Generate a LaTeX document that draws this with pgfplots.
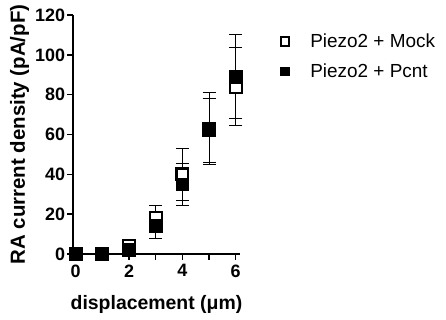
\documentclass[border=0pt]{standalone}
\usepackage{fontspec}
\setmainfont{Liberation Sans}
\usepackage{pgfplots}
\pgfplotsset{compat=1.18}
\begin{document}
\begin{tikzpicture}
\path[use as bounding box] (0,0) rectangle (446bp,320bp);
\begin{axis}[
  at={(73bp,66bp)}, anchor=south west,
  scale only axis, width=167bp, height=239bp,
  xmin=-0.1, xmax=6.16, ymin=0, ymax=120,
  clip=false,
  axis lines*=left,
  axis line style={line width=1.5pt},
  xtick={0,2,4,6}, ytick={0,20,40,60,80,100,120},
  minor xtick={1,3,5},
  tick style={line width=1.5pt, black},
  tick align=outside,
  major tick length=5.5bp, minor tick length=5.5bp,
  /pgf/number format/assume math mode=true,
  ticklabel style={font=\fontsize{18}{19}\selectfont\bfseries},
  xticklabel style={yshift=-1.5bp},
  yticklabel style={xshift=1bp},
  xlabel={displacement (μm)},
  ylabel={RA current density (pA/pF)},
  xlabel style={font=\fontsize{19.5}{21}\selectfont\bfseries, yshift=-11bp},
  ylabel style={font=\fontsize{20.5}{22}\selectfont\bfseries, yshift=-1bp},
  legend style={at={(1.2,0.826)}, anchor=west, draw=none, fill=none,
    font=\fontsize{19}{21}\selectfont, row sep=11bp, legend cell align=left},
  legend image code/.code={\path[draw=none,fill=none] (0cm,0cm) -- (1.12cm,0cm);\draw[#1, mark size=4.2bp] plot coordinates {(0.3cm,0cm)};},
]
\addplot[only marks, mark=square*, mark size=5.9bp, mark options={fill=white, draw=black, line width=2.2pt},
  error bars/.cd, y dir=both, y explicit,
  error bar style={line width=0.9pt, black},
  error mark options={rotate=90, mark size=6.5bp, line width=0.9pt}]
  coordinates {
  (0,0) +- (0,0)
  (1,0) +- (0,0)
  (2,4) +- (0,2)
  (3,18) +- (0,6.5)
  (4,40) +- (0,13)
  (5,63) +- (0,18)
  (6,84) +- (0,19.5)
  };
\addlegendentry{Piezo2 + Mock}
\addplot[only marks, mark=square*, mark size=6.3bp, mark options={fill=black, draw=black, line width=0.8pt},
  error bars/.cd, y dir=both, y explicit,
  error bar style={line width=0.9pt, black},
  error mark options={rotate=90, mark size=6.5bp, line width=0.9pt}]
  coordinates {
  (0,0) +- (0,0)
  (1,0) +- (0,0)
  (2,2) +- (0,1.5)
  (3,14) +- (0,6)
  (4,35) +- (0,10.5)
  (5,62) +- (0,16)
  (6,89) +- (0,21)
  };
\addlegendentry{Piezo2 + Pcnt}
\end{axis}
\end{tikzpicture}
\end{document}
